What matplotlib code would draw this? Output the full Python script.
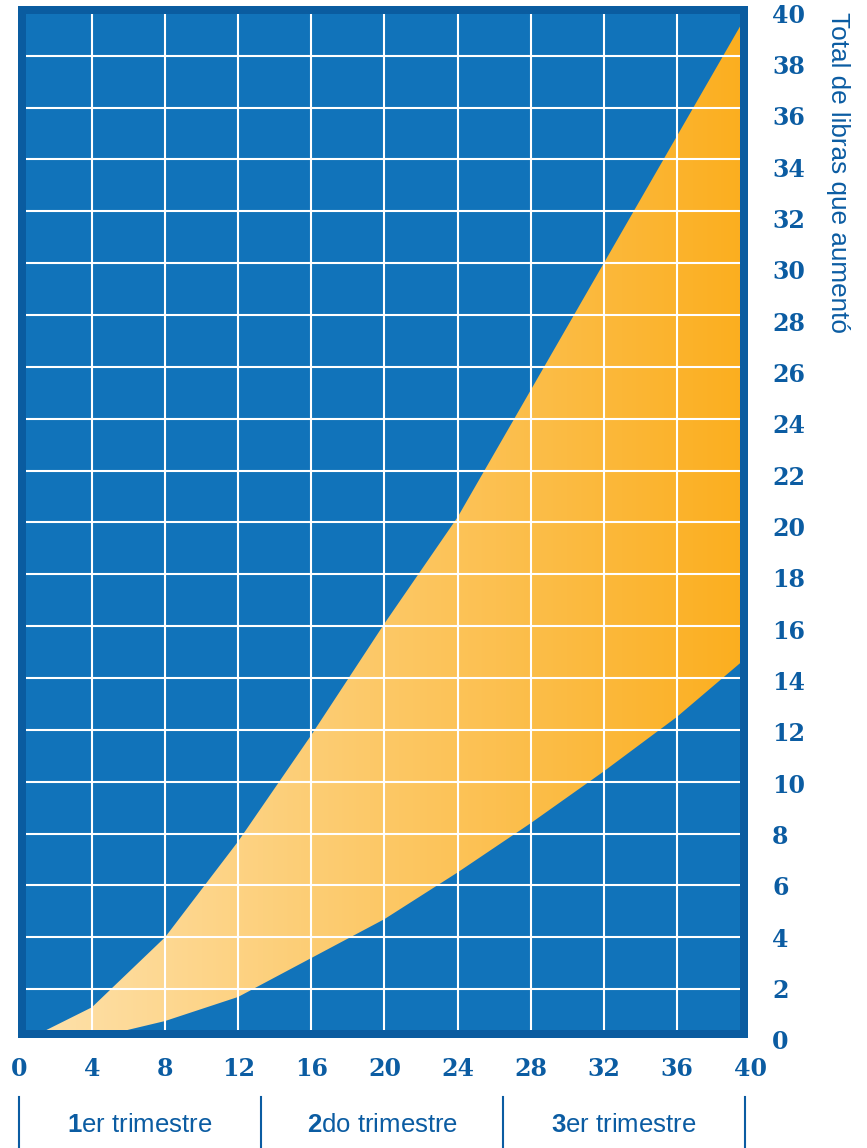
import matplotlib
matplotlib.use('Agg')
import matplotlib.pyplot as plt
import numpy as np
from matplotlib.colors import LinearSegmentedColormap
from matplotlib.patches import Rectangle
from matplotlib.transforms import blended_transform_factory

# Data (weeks of pregnancy vs. total pounds gained)
upper_weeks = [1.3, 4, 8, 12, 16, 20, 24, 28, 32, 36, 40]
upper_lbs = [0.35, 1.3, 4.0, 7.7, 11.8, 16.1, 20.2, 25.1, 30.0, 34.9, 39.8]
lower_weeks = [5.8, 8, 12, 16, 20, 24, 28, 32, 36, 40]
lower_lbs = [0.4, 0.77, 1.7, 3.2, 4.7, 6.5, 8.4, 10.4, 12.5, 14.9]

week_ticks = [0, 4, 8, 12, 16, 20, 24, 28, 32, 36, 40]
lb_ticks = list(range(0, 42, 2))
trimester_edges = [0, 13.25, 26.5, 39.7]
trimester_num = ['1', '2', '3']
trimester_txt = ['er trimestre', 'do trimestre', 'er trimestre']
ylabel = 'Total de libras que aumentó'

# colours
bg_blue = '#1173BA'
frame_blue = '#0A5CA0'
text_blue = '#0B5CA2'
grad_cmap = LinearSegmentedColormap.from_list('peach', ['#FEE2AE', '#FBAE1E'])

sans = ['Liberation Sans', 'DejaVu Sans']
plt.rcParams['mathtext.fontset'] = 'custom'
plt.rcParams['mathtext.bf'] = 'Liberation Sans:bold'
plt.rcParams['mathtext.rm'] = 'Liberation Sans'

W, H = 867, 1148
fig = plt.figure(figsize=(W / 100, H / 100), dpi=100)

# outer dark frame (pixels -> figure fraction)
fig.add_artist(Rectangle((18 / W, (H - 1038) / H), 730 / W, 1032 / H,
                         transform=fig.transFigure, facecolor=frame_blue,
                         edgecolor='none', zorder=-1))

ax = fig.add_axes([26 / W, (H - 1030) / H, 714 / W, 1016 / H])
ax.set_facecolor(bg_blue)
for s in ax.spines.values():
    s.set_visible(False)
ax.tick_params(left=False, bottom=False, labelleft=False, labelbottom=False)

# shaded band with horizontal gradient
band_x = upper_weeks + lower_weeks[::-1]
band_y = upper_lbs + lower_lbs[::-1]
poly = ax.fill(band_x, band_y, facecolor='none', edgecolor='none')[0]
grad = np.linspace(0, 1, 256).reshape(1, -1)
im = ax.imshow(grad, cmap=grad_cmap, aspect='auto', extent=[0, 40, 0, 40],
               origin='lower', zorder=1)
im.set_clip_path(poly)
ax.set_xlim(0.394, 39.45)
ax.set_ylim(0.424, 39.61)

# grid
for w in week_ticks[1:-1]:
    ax.axvline(w, color='white', lw=1.5, zorder=2)
for lb in lb_ticks[1:-1]:
    ax.axhline(lb, color='white', lw=1.5, zorder=2)

# tick labels (the right-hand numbers sit a little lower than the grid in the original)
xt = blended_transform_factory(ax.transData, fig.transFigure)
for w in week_ticks:
    ax.text(w, (H - 1069) / H, str(w), transform=xt, ha='center', va='center',
            fontsize=17, fontweight='bold', family='DejaVu Serif', color=text_blue)
yt = blended_transform_factory(fig.transFigure, ax.transData)
for lb in lb_ticks:
    ax.text(772 / W, lb * 0.99 - 0.05, str(lb), transform=yt, ha='left', va='center',
            fontsize=17, fontweight='bold', family='DejaVu Serif', color=text_blue,
            clip_on=False)

fig.text(838 / W, (H - 12) / H, ylabel, rotation=-90, ha='center', va='top',
         fontsize=18.8, family=sans, color=text_blue)

# trimester row
for e in trimester_edges:
    ax.plot([e, e], [(H - 1097) / H, 0], transform=xt, color=text_blue,
            lw=1.5, clip_on=False)
for i in range(3):
    mid = (trimester_edges[i] + trimester_edges[i + 1]) / 2
    ax.text(mid, (H - 1125) / H, r'$\mathbf{' + trimester_num[i] + '}$' + trimester_txt[i],
            transform=xt, ha='center', va='center', fontsize=18.5, family=sans,
            color=text_blue)

fig.savefig('out.png', dpi=100)
